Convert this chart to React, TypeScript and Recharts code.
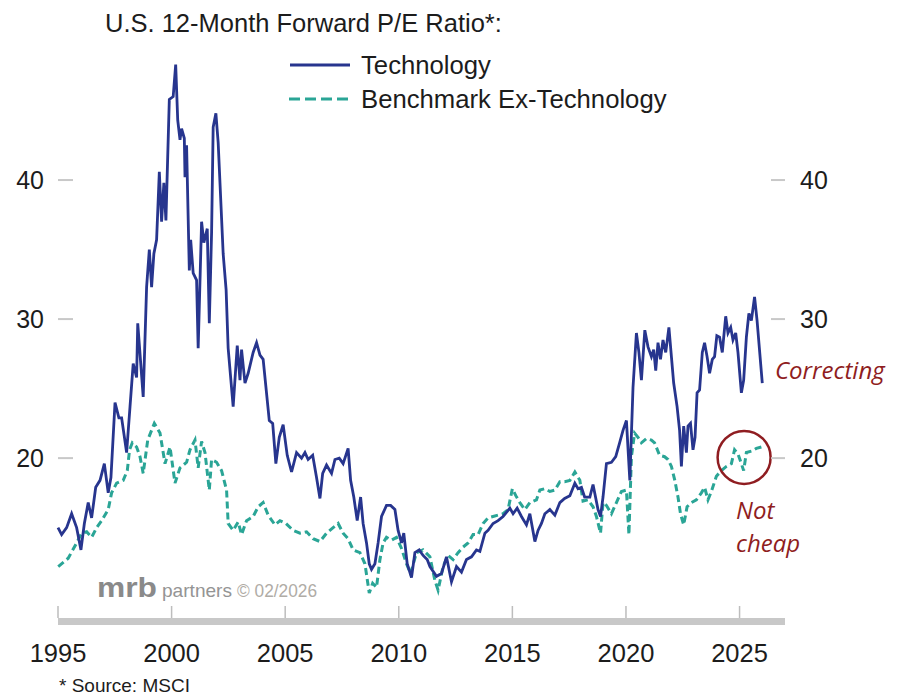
import React from 'react';
import { LineChart, Line, XAxis, YAxis, ReferenceDot } from 'recharts';

// [year, forward P/E]
const techPoints: [number, number][] = [
  [1995.0, 15.0], [1995.16, 14.5], [1995.38, 15.0], [1995.6, 16.0], [1995.82, 15.0],
  [1996.01, 13.4], [1996.16, 15.3], [1996.33, 16.8], [1996.48, 15.7], [1996.66, 17.9],
  [1996.85, 18.4], [1997.04, 19.6], [1997.21, 17.5], [1997.33, 18.6], [1997.51, 24.0],
  [1997.68, 22.9], [1997.8, 22.9], [1998.02, 20.4], [1998.17, 23.7], [1998.31, 26.8],
  [1998.46, 25.8], [1998.51, 29.7], [1998.75, 24.4], [1998.9, 32.3], [1999.02, 35.0],
  [1999.12, 32.3], [1999.22, 34.7], [1999.34, 35.7], [1999.46, 40.6], [1999.56, 37.0],
  [1999.66, 39.8], [1999.75, 37.1], [1999.9, 45.8], [2000.07, 46.0], [2000.18, 48.3],
  [2000.27, 44.3], [2000.37, 42.9], [2000.44, 43.7], [2000.56, 43.0], [2000.59, 40.2],
  [2000.66, 42.5], [2000.78, 33.5], [2000.84, 35.7], [2000.95, 33.3], [2001.1, 32.8],
  [2001.17, 27.9], [2001.32, 37.0], [2001.42, 35.5], [2001.57, 36.5], [2001.66, 29.7],
  [2001.76, 36.2], [2001.83, 43.8], [2001.95, 44.8], [2002.05, 42.7], [2002.27, 34.7],
  [2002.4, 32.1], [2002.49, 27.9], [2002.71, 23.7], [2002.89, 28.1], [2003.01, 25.6],
  [2003.08, 27.8], [2003.23, 25.4], [2003.37, 26.1], [2003.59, 27.6], [2003.74, 28.3],
  [2003.89, 27.4], [2004.03, 27.1], [2004.3, 22.7], [2004.45, 22.5], [2004.59, 19.6],
  [2004.74, 21.5], [2004.91, 22.4], [2005.09, 20.2], [2005.28, 19.0], [2005.5, 20.4],
  [2005.72, 20.0], [2005.87, 20.4], [2006.01, 19.9], [2006.21, 20.2], [2006.38, 18.6],
  [2006.53, 17.1], [2006.65, 18.9], [2006.82, 19.5], [2007.04, 18.9], [2007.19, 19.9],
  [2007.38, 20.0], [2007.55, 19.6], [2007.77, 20.7], [2007.88, 18.4], [2008.02, 17.2],
  [2008.17, 15.5], [2008.32, 17.2], [2008.43, 15.3], [2008.58, 13.9], [2008.7, 12.4],
  [2008.8, 12.0], [2008.95, 12.4], [2009.09, 13.9], [2009.24, 15.8], [2009.46, 16.6],
  [2009.64, 16.6], [2009.83, 16.3], [2009.97, 14.8], [2010.12, 13.9], [2010.22, 14.6],
  [2010.37, 12.4], [2010.56, 11.4], [2010.71, 13.2], [2010.9, 13.4], [2011.07, 13.0],
  [2011.25, 12.7], [2011.37, 12.2], [2011.66, 11.5], [2011.88, 11.7], [2012.1, 12.9],
  [2012.32, 11.1], [2012.54, 12.2], [2012.76, 11.8], [2012.98, 12.7], [2013.2, 12.9],
  [2013.42, 13.4], [2013.57, 13.3], [2013.79, 14.6], [2013.93, 14.8], [2014.15, 15.3],
  [2014.37, 15.5], [2014.59, 15.8], [2014.89, 16.4], [2015.03, 16.0], [2015.21, 16.4],
  [2015.4, 15.8], [2015.62, 15.2], [2015.77, 16.0], [2015.99, 14.0], [2016.13, 14.8],
  [2016.28, 15.3], [2016.43, 16.0], [2016.65, 16.3], [2016.87, 15.9], [2017.09, 16.8],
  [2017.3, 17.1], [2017.53, 17.3], [2017.75, 18.2], [2017.89, 17.8], [2018.04, 17.9],
  [2018.18, 17.2], [2018.41, 17.2], [2018.55, 18.1], [2018.77, 16.3], [2018.88, 15.8],
  [2018.99, 17.2], [2019.14, 19.6], [2019.36, 19.7], [2019.55, 20.1], [2019.72, 21.1],
  [2019.87, 22.0], [2020.02, 22.7], [2020.17, 18.4], [2020.31, 25.1], [2020.46, 29.0],
  [2020.57, 27.6], [2020.68, 25.6], [2020.83, 29.2], [2020.97, 28.0], [2021.12, 27.3],
  [2021.22, 27.8], [2021.31, 26.3], [2021.41, 28.3], [2021.52, 27.1], [2021.63, 28.5],
  [2021.75, 27.6], [2021.89, 29.4], [2022.0, 27.3], [2022.1, 25.4], [2022.25, 23.7],
  [2022.36, 22.0], [2022.44, 19.4], [2022.54, 22.3], [2022.66, 20.4], [2022.73, 22.3],
  [2022.84, 22.5], [2022.95, 20.6], [2023.04, 21.5], [2023.13, 24.7], [2023.24, 24.9],
  [2023.36, 27.6], [2023.46, 28.3], [2023.57, 27.3], [2023.68, 26.1], [2023.8, 27.1],
  [2023.9, 27.3], [2024.0, 28.8], [2024.12, 28.7], [2024.24, 27.6], [2024.39, 30.2],
  [2024.49, 29.0], [2024.61, 29.4], [2024.71, 28.5], [2024.83, 29.0], [2024.93, 27.6],
  [2025.08, 24.7], [2025.18, 25.6], [2025.3, 28.7], [2025.41, 30.4], [2025.52, 29.9],
  [2025.66, 31.6], [2025.77, 29.9], [2026.0, 25.4],
];

const benchPoints: [number, number][] = [
  [1995.01, 12.2], [1995.45, 12.8], [1995.82, 13.9], [1996.04, 14.6], [1996.26, 14.7],
  [1996.48, 14.3], [1996.7, 15.0], [1996.92, 15.5], [1997.21, 16.3], [1997.36, 17.5],
  [1997.58, 18.2], [1997.87, 18.4], [1998.05, 19.1], [1998.15, 20.6], [1998.27, 21.1],
  [1998.46, 20.8], [1998.61, 20.1], [1998.75, 18.9], [1998.95, 21.3], [1999.24, 22.5],
  [1999.49, 21.8], [1999.71, 19.6], [1999.93, 20.8], [2000.15, 18.2], [2000.37, 19.3],
  [2000.66, 19.7], [2000.81, 20.6], [2001.03, 21.3], [2001.17, 19.3], [2001.32, 21.2],
  [2001.47, 20.4], [2001.66, 17.7], [2001.76, 19.9], [2001.98, 19.7], [2002.2, 19.1],
  [2002.42, 17.7], [2002.49, 15.3], [2002.71, 14.8], [2002.93, 15.4], [2003.08, 14.5],
  [2003.3, 15.5], [2003.59, 15.8], [2003.81, 16.5], [2004.03, 16.8], [2004.25, 15.9],
  [2004.55, 15.2], [2004.77, 15.5], [2005.03, 15.3], [2005.35, 14.8], [2005.65, 14.6],
  [2005.94, 14.7], [2006.23, 14.2], [2006.53, 14.0], [2006.82, 14.6], [2007.11, 15.0],
  [2007.33, 15.3], [2007.55, 14.6], [2007.77, 14.2], [2007.99, 13.4], [2008.29, 13.2],
  [2008.51, 12.4], [2008.7, 10.3], [2008.85, 11.0], [2009.02, 10.7], [2009.17, 12.7],
  [2009.31, 13.9], [2009.46, 14.3], [2009.68, 14.1], [2009.9, 14.3], [2010.12, 13.5],
  [2010.34, 12.4], [2010.52, 11.7], [2010.78, 13.2], [2011.07, 13.4], [2011.37, 12.9],
  [2011.59, 11.2], [2011.73, 10.5], [2011.95, 12.2], [2012.17, 13.0], [2012.39, 12.7],
  [2012.61, 13.2], [2012.83, 13.6], [2013.05, 13.9], [2013.27, 14.5], [2013.49, 14.5],
  [2013.71, 15.3], [2013.93, 15.7], [2014.15, 15.8], [2014.37, 15.9], [2014.59, 16.0],
  [2014.81, 16.3], [2015.0, 17.8], [2015.15, 17.3], [2015.33, 16.8], [2015.55, 16.3],
  [2015.77, 16.8], [2016.06, 17.0], [2016.21, 17.7], [2016.43, 17.8], [2016.65, 17.6],
  [2016.87, 17.7], [2017.09, 18.3], [2017.3, 18.3], [2017.53, 18.4], [2017.75, 19.0],
  [2017.97, 18.4], [2018.11, 16.9], [2018.33, 17.0], [2018.55, 16.5], [2018.7, 15.8],
  [2018.88, 14.6], [2018.99, 16.8], [2019.14, 16.6], [2019.36, 16.0], [2019.58, 16.8],
  [2019.8, 17.6], [2020.02, 17.7], [2020.13, 14.5], [2020.24, 20.1], [2020.38, 21.8],
  [2020.53, 21.5], [2020.68, 21.1], [2020.9, 21.4], [2021.12, 21.3], [2021.26, 21.1],
  [2021.48, 20.2], [2021.7, 20.1], [2021.85, 19.9], [2022.0, 19.4], [2022.15, 18.4],
  [2022.29, 17.2], [2022.4, 16.0], [2022.54, 15.2], [2022.69, 16.5], [2022.88, 16.8],
  [2023.1, 17.0], [2023.32, 17.5], [2023.46, 17.9], [2023.61, 17.0], [2023.76, 17.6],
  [2023.98, 18.7], [2024.2, 19.1], [2024.42, 19.4], [2024.64, 19.6], [2024.78, 20.6],
  [2024.93, 20.3], [2025.08, 19.6], [2025.18, 19.1], [2025.3, 20.4], [2025.52, 20.5],
  [2025.74, 20.7], [2025.96, 20.8],
];

const yearTicks = [1995, 2000, 2005, 2010, 2015, 2020, 2025];
const peTicks = [20, 30, 40];

const techData = techPoints.map(([t, v]) => ({ t, v }));
const benchData = benchPoints.map(([t, v]) => ({ t, v }));

const W = 899;
const H = 696;
const PLOT_LEFT = 58;
const PLOT_RIGHT = 785;
const PLOT_BOTTOM = 618;
const FONT = "Arial, 'Liberation Sans', sans-serif";
const NAVY = '#27358e';
const TEAL = '#2aa596';
const RED = '#8f1d21';

const PeTick = (props: any) => {
  const { y, payload } = props;
  return (
    <g>
      <text x={44} y={y} textAnchor="end" dominantBaseline="central" fontSize={25} fontFamily={FONT} fill="#1c1c1c">
        {payload.value}
      </text>
      <line x1={PLOT_LEFT} x2={PLOT_LEFT + 15} y1={y} y2={y} stroke="#c8c8c8" strokeWidth={2} />
      <line x1={PLOT_RIGHT - 14} x2={PLOT_RIGHT} y1={y} y2={y} stroke="#c8c8c8" strokeWidth={2} />
      <text x={800} y={y} textAnchor="start" dominantBaseline="central" fontSize={25} fontFamily={FONT} fill="#1c1c1c">
        {payload.value}
      </text>
    </g>
  );
};

const YearTick = (props: any) => {
  const { x, payload } = props;
  return (
    <g>
      <line x1={x} x2={x} y1={PLOT_BOTTOM - 12} y2={PLOT_BOTTOM} stroke="#bdbdbd" strokeWidth={1.5} />
      <text x={x} y={662} textAnchor="middle" fontSize={25.5} fontFamily={FONT} fill="#1c1c1c">
        {payload.value}
      </text>
    </g>
  );
};

export default function App() {
  return (
    <div style={{ position: 'absolute', left: 0, top: 0, width: W, height: H, background: '#fff' }}>
      <LineChart width={W} height={H} margin={{ top: 41, right: W - PLOT_RIGHT, bottom: 0, left: 0 }}>
        <XAxis
          dataKey="t"
          type="number"
          domain={[1995, 2027]}
          ticks={yearTicks}
          interval={0}
          height={H - PLOT_BOTTOM}
          tickLine={false}
          axisLine={{ stroke: '#c8c8c8', strokeWidth: 7, transform: 'translate(0,3.5)' }}
          tick={<YearTick />}
        />
        <YAxis
          type="number"
          domain={[8.5, 50]}
          allowDataOverflow
          ticks={peTicks}
          width={PLOT_LEFT}
          axisLine={false}
          tickLine={false}
          tick={<PeTick />}
        />
        <Line
          data={benchData}
          dataKey="v"
          type="linear"
          stroke={TEAL}
          strokeWidth={3}
          strokeDasharray="7 4"
          dot={false}
          isAnimationActive={false}
        />
        <Line
          data={techData}
          dataKey="v"
          type="linear"
          stroke={NAVY}
          strokeWidth={2.8}
          dot={false}
          isAnimationActive={false}
        />
        <ReferenceDot x={2025.2} y={20.05} r={26.5} fill="none" stroke={RED} strokeWidth={2.5} />
      </LineChart>

      <svg width={W} height={H} style={{ position: 'absolute', left: 0, top: 0, pointerEvents: 'none' }}>
        <text x={105} y={32} fontSize={25.5} fontFamily={FONT} fill="#1c1c1c">
          U.S. 12-Month Forward P/E Ratio*:
        </text>

        <line x1={290} x2={350} y1={65} y2={65} stroke={NAVY} strokeWidth={3} />
        <text x={361} y={65} dominantBaseline="central" fontSize={25.7} fontFamily={FONT} fill="#1c1c1c">
          Technology
        </text>
        <line x1={289} x2={351} y1={99} y2={99} stroke={TEAL} strokeWidth={3} strokeDasharray="11 5" />
        <text x={361} y={99} dominantBaseline="central" fontSize={25.7} fontFamily={FONT} fill="#1c1c1c">
          Benchmark Ex-Technology
        </text>

        <text x={775} y={379} fontSize={24} fontStyle="italic" fontFamily="'Open Sans', sans-serif" fill={RED}>
          Correcting
        </text>
        <text x={736} y={519} fontSize={24} fontStyle="italic" fontFamily="'Open Sans', sans-serif" fill={RED}>
          Not
        </text>
        <text x={736} y={552} fontSize={24} fontStyle="italic" fontFamily="'Open Sans', sans-serif" fill={RED}>
          cheap
        </text>

        <text x={97} y={597} fontSize={28} fontWeight="bold" fontFamily={FONT} fill="#8a8a8a" textLength={60} lengthAdjust="spacingAndGlyphs">
          mrb
        </text>
        <text x={162} y={597} fontSize={19} fontFamily={FONT} fill="#949494" textLength={70} lengthAdjust="spacingAndGlyphs">
          partners
        </text>
        <text x={237} y={597} fontSize={17.5} fontFamily={FONT} fill="#b0aca6" textLength={80} lengthAdjust="spacingAndGlyphs">
          © 02/2026
        </text>

        <text x={59} y={692} fontSize={19} fontFamily={FONT} fill="#1c1c1c">
          * Source: MSCI
        </text>
      </svg>
    </div>
  );
}
